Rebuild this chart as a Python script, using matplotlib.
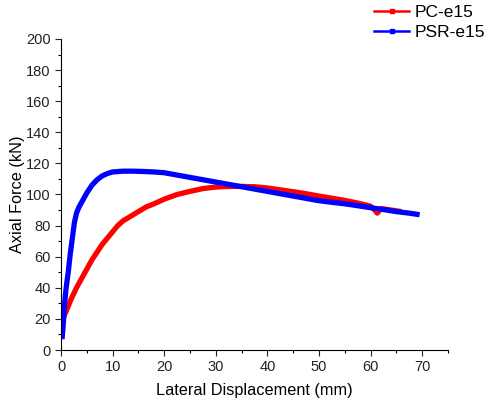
import numpy as np
from matplotlib import pyplot as plt
from matplotlib.lines import Line2D
from matplotlib.ticker import MultipleLocator

plt.rcParams['font.family'] = ['Liberation Sans', 'DejaVu Sans']

pc_x = [0.0, 0.3, 0.6, 1.0, 1.5, 2.0, 3.0, 4.0, 5.0, 6.0, 7.0, 8.0, 9.0, 10.0,
        11.0, 12.0, 13.5, 15.0, 16.5, 18.0, 20.0, 22.5, 25.0, 27.5, 30.0, 32.5,
        35.0, 37.5, 40.0, 42.5, 45.0, 47.5, 50.0, 52.5, 55.0, 57.5, 60.0, 60.8,
        61.3, 62.0, 63.0, 64.0, 65.0, 66.0]
pc_y = [10, 17, 22, 25, 29, 33, 40, 46, 52, 58, 63, 68, 72, 76,
        80, 83, 86, 89, 92, 94, 97, 100, 102, 103.8, 104.8, 105.2,
        105.2, 105, 104.2, 103, 101.8, 100.5, 99, 97.6, 96.2, 94.5, 92.5, 90,
        88, 91, 90.5, 90, 89.5, 89]

psr_x = [0.2, 0.4, 0.7, 1.0, 1.4, 1.8, 2.2, 2.6, 3.0, 3.5, 4.0, 5.0, 6.0, 7.0,
         8.0, 9.0, 10.0, 12.0, 14.0, 16.0, 18.0, 20.0, 22.5, 25.0, 27.5, 30.0,
         32.5, 35.0, 37.5, 40.0, 42.5, 45.0, 47.5, 50.0, 52.5, 55.0, 57.5,
         60.0, 62.5, 65.0, 67.5, 69.5]
psr_y = [7, 15, 30, 40, 50, 62, 72, 82, 88, 92, 95, 101, 106, 109.5,
         112, 113.5, 114.5, 115, 115, 114.8, 114.5, 114, 112.5, 111, 109.5, 108,
         106.5, 105, 103.5, 102, 100.5, 99, 97.5, 96, 95, 94, 92.8,
         91.5, 90.3, 89, 88, 87]

labels = ['PC-e15', 'PSR-e15']
colors = ['#ff0000', '#0000ff']

fig = plt.figure(figsize=(4.9, 4.05), dpi=100)
ax = fig.add_axes([61 / 490, 1 - 350 / 405, 387 / 490, 311 / 405])

ax.plot(pc_x, pc_y, color=colors[0], lw=3.8, solid_capstyle='butt')
ax.plot(psr_x, psr_y, color=colors[1], lw=3.8, solid_capstyle='butt')

ax.set_xlim(0, 75)
ax.set_ylim(0, 200)
ax.xaxis.set_major_locator(MultipleLocator(10))
ax.xaxis.set_minor_locator(MultipleLocator(5))
ax.yaxis.set_major_locator(MultipleLocator(20))
ax.yaxis.set_minor_locator(MultipleLocator(10))
ax.spines['top'].set_visible(False)
ax.spines['right'].set_visible(False)
ax.tick_params(which='major', direction='out', length=4, width=0.8,
               labelsize=10.5, colors='#222222', labelcolor='#222222')
ax.tick_params(which='minor', direction='out', length=2.5, width=0.8)
ax.set_xlabel('Lateral Displacement (mm)', fontsize=11.7, labelpad=6)
ax.set_ylabel('Axial Force (kN)', fontsize=11.7, labelpad=1)

handles = [Line2D([], [], color=c, lw=1.8, marker='s', markersize=2.5)
           for c in colors]
fig.legend(handles, labels, loc='upper right', bbox_to_anchor=(1.0, 1.0),
           frameon=False, fontsize=12.5, handlelength=2.0, handletextpad=0.3,
           labelspacing=0.25, borderaxespad=0.05, borderpad=0.25)

fig.savefig('out.png', dpi=100)
